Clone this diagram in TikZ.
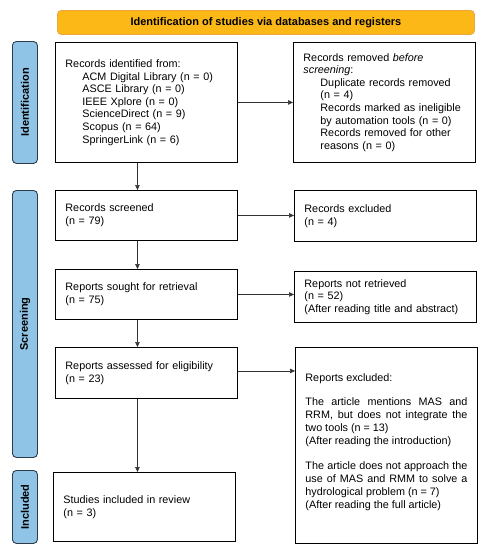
\documentclass[tikz,border=0pt]{standalone}
\usepackage{fontspec}
\setmainfont{Liberation Sans}
\usetikzlibrary{arrows.meta}
\definecolor{bannerfill}{HTML}{FBB817}
\definecolor{bannerdraw}{HTML}{EDA53C}
\definecolor{phasefill}{HTML}{90C4E6}
\definecolor{phasedraw}{HTML}{2E3B4A}
\definecolor{arrowgray}{HTML}{333333}
\newcommand{\ind}{\hspace*{17pt}}
\begin{document}
\begin{tikzpicture}[x=1pt,y=-1pt,
  box/.style={draw=black,line width=0.9pt,anchor=north west,inner xsep=10pt,inner ysep=0pt,
    minimum width=182pt,text width=162pt,align=left,font=\fontsize{10.8}{12.6}\selectfont},
  phase/.style={draw=phasedraw,fill=phasefill,line width=0.9pt,rounded corners=4pt,
    anchor=north west,minimum width=25pt,inner sep=0pt},
  phasetext/.style={rotate=90,font=\fontsize{11}{13}\selectfont\bfseries},
  arr/.style={-{Triangle[length=5pt,width=4.5pt]},draw=arrowgray,line width=0.6pt}]
\useasboundingbox (0,0) rectangle (488,550);
% banner
\node[draw=bannerdraw,fill=bannerfill,line width=0.9pt,rounded corners=4pt,anchor=north west,
  minimum width=417pt,minimum height=24pt,inner sep=0pt,font=\fontsize{11}{13}\selectfont\bfseries]
  (banner) at (57,10) {Identification of studies via databases and registers};
% phases
\node[phase,minimum height=122pt] (idlab) at (12,41) {};
\node[phasetext] (idtxt) at (idlab.center) {Identification};
\node[phase,minimum height=267pt] (sclab) at (12,190) {};
\node[phasetext] (sctxt) at (sclab.center) {Screening};
\node[phase,minimum height=73pt] (inlab) at (12,470) {};
\node[phasetext] (intxt) at (inlab.center) {Included};
% identification
\node[box,minimum height=120pt] (recid) at (55,42) {Records identified from:\\
\ind ACM Digital Library (n = 0)\\
\ind ASCE Library (n = 0)\\
\ind IEEE Xplore (n = 0)\\
\ind ScienceDirect (n = 9)\\
\ind Scopus (n = 64)\\
\ind SpringerLink (n = 6)};
\node[box,minimum height=120pt] (recrem) at (293,42) {Records removed \emph{before}\\
\emph{screening}:\\
\ind Duplicate records removed\\
\ind (n = 4)\\
\ind Records marked as ineligible\\
\ind by automation tools (n = 0)\\
\ind Records removed for other\\
\ind reasons (n = 0)};
% screening
\node[box,minimum height=50pt] (recscr) at (55,190) {Records screened\\(n = 79)};
\node[box,minimum height=51pt] (recexc) at (294,190) {Records excluded\\(n = 4)};
\node[box,minimum height=50pt] (rptsou) at (55,269) {Reports sought for retrieval\\(n = 75)};
\node[box,minimum height=51pt] (rptnot) at (294,271) {Reports not retrieved\\(n = 52)\\(After reading title and abstract)};
\node[box,minimum height=51pt] (rptass) at (55,347) {Reports assessed for eligibility\\(n = 23)};
\node[box,minimum height=196pt,align=justify,font=\fontsize{10.8}{13}\selectfont] (rptexc) at (295,347) {Reports excluded:\\[11pt]
The article mentions MAS and\linebreak RRM, but does not integrate the\linebreak two tools (n = 13)\\
(After reading the introduction)\\[12pt]
The article does not approach the\linebreak use of MAS and RMM to solve a\linebreak hydrological problem (n = 7)\\
(After reading the full article)\\[-4pt]\mbox{}};
% included
\node[box,minimum height=69pt] (incl) at (53,472) {Studies included in review\\(n = 3)};
% arrows
\draw[arr] (recid.east) -- (recid.east -| recrem.west);
\draw[arr] (recscr.east) -- (recscr.east -| recexc.west);
\draw[arr] (rptsou.east) -- (rptsou.east -| rptnot.west);
\draw[arr] ([yshift=2pt]rptass.east) -- ([yshift=2pt]rptass.east -| rptexc.west);
\draw[arr] ([xshift=-9pt]recid.south) -- ([xshift=-9pt]recid.south |- recscr.north);
\draw[arr] ([xshift=-9pt]recscr.south) -- ([xshift=-9pt]recscr.south |- rptsou.north);
\draw[arr] ([xshift=-9pt]rptsou.south) -- ([xshift=-9pt]rptsou.south |- rptass.north);
\draw[arr] ([xshift=-9pt]rptass.south) -- ([xshift=-9pt]rptass.south |- incl.north);
\end{tikzpicture}
\end{document}
